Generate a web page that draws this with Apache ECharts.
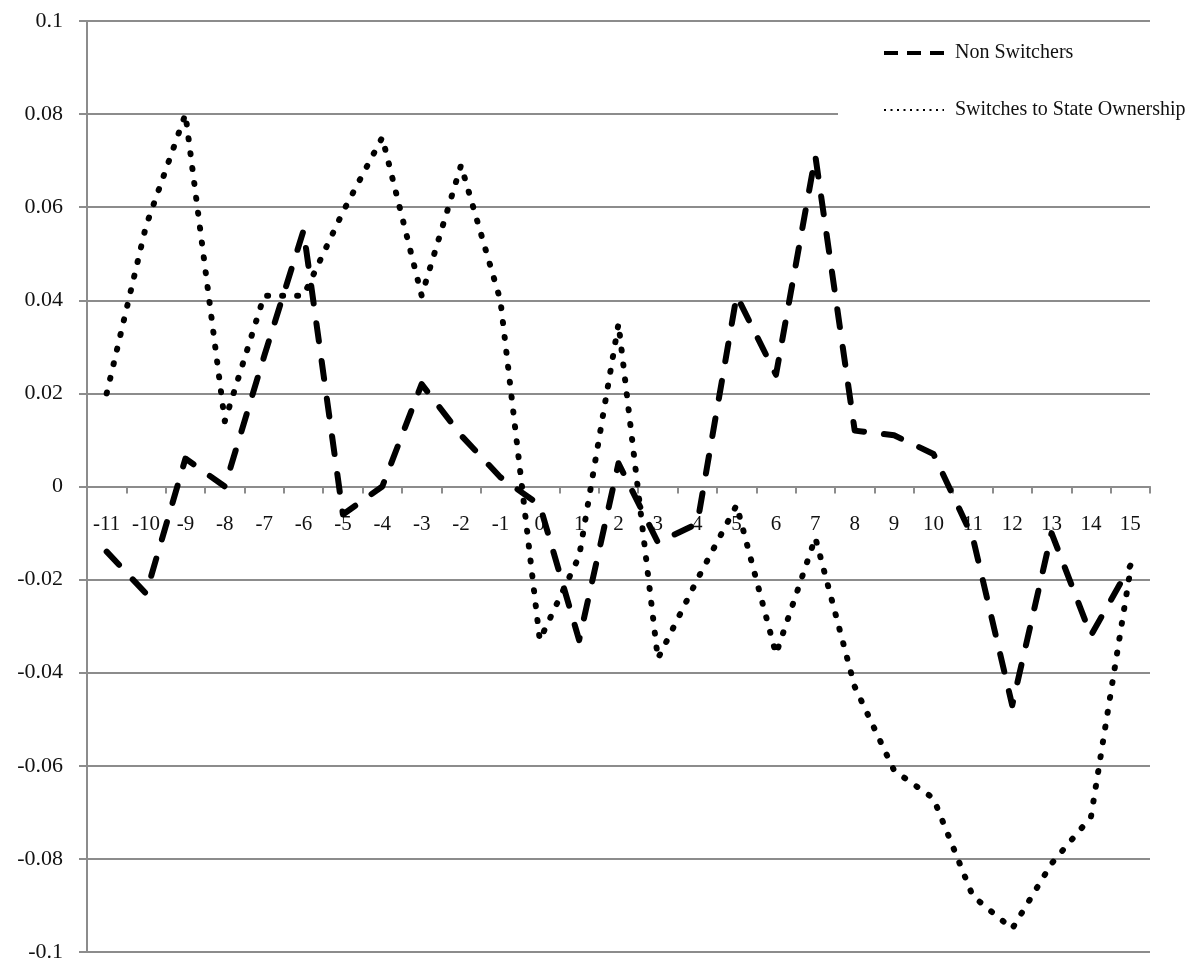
<!DOCTYPE html>
<html>
<head>
<meta charset="utf-8">
<script src="https://cdn.jsdelivr.net/npm/echarts@6/dist/echarts.min.js"></script>
<style>
html,body{margin:0;padding:0;background:#fff;}
#chart{width:1195px;height:970px;}
</style>
</head>
<body>
<div id="chart"></div>
<script>
var categories = ['-11','-10','-9','-8','-7','-6','-5','-4','-3','-2','-1','0','1','2','3','4','5','6','7','8','9','10','11','12','13','14','15'];
var nonSwitchers = [-0.014, -0.023, 0.006, 0.000, 0.028, 0.055, -0.006, 0.000, 0.022, 0.011, 0.002, -0.004, -0.033, 0.005, -0.012, -0.008, 0.041, 0.024, 0.071, 0.012, 0.011, 0.007, -0.011, -0.047, -0.010, -0.032, -0.017];
var switchesToState = [0.020, 0.056, 0.080, 0.014, 0.041, 0.041, 0.059, 0.075, 0.041, 0.069, 0.040, -0.033, -0.015, 0.035, -0.037, -0.020, -0.004, -0.036, -0.011, -0.043, -0.061, -0.067, -0.088, -0.095, -0.081, -0.071, -0.018];
var seriesNames = ['Non Switchers', 'Switches to State Ownership'];

var font = 'Liberation Serif, Times New Roman, serif';
var gridTop = 21, gridBottom = 18, chartH = 970;
var plotH = chartH - gridTop - gridBottom;
var yMin = -0.1, yMax = 0.1;
// offset that places the category axis on the zero line
var zeroOffset = -plotH * (0 - yMin) / (yMax - yMin);

var hiddenSymbol = {color: 'rgba(0,0,0,0)', borderColor: 'rgba(0,0,0,0)', borderWidth: 0, opacity: 0};

var chart = echarts.init(document.getElementById('chart'));
chart.setOption({
  animation: false,
  backgroundColor: '#fff',
  grid: {left: 87, right: 45, top: gridTop, bottom: gridBottom, containLabel: false, outerBoundsMode: 'none'},
  legend: {
    orient: 'vertical',
    left: 838, top: 31,
    padding: [12, 10, 22, 44],
    backgroundColor: '#fff',
    itemWidth: 60, itemHeight: 20, itemGap: 37,
    textStyle: {fontFamily: font, fontSize: 20, color: '#111', padding: [0, 0, 0, 6]},
    data: [
      {name: seriesNames[0], itemStyle: hiddenSymbol, lineStyle: {type: [14, 9], width: 4, color: '#000', cap: 'butt'}},
      {name: seriesNames[1], itemStyle: hiddenSymbol, lineStyle: {type: [2, 4.5], width: 2, color: '#000', cap: 'butt'}}
    ]
  },
  xAxis: {
    type: 'category',
    data: categories,
    boundaryGap: true,
    position: 'bottom',
    offset: zeroOffset,
    axisLine: {onZero: false, lineStyle: {color: '#8c8c8c', width: 2}},
    axisTick: {show: true, length: 7, inside: false, lineStyle: {color: '#8c8c8c', width: 2}},
    axisLabel: {fontFamily: font, fontSize: 21, color: '#111', margin: 27, interval: 0},
    splitLine: {show: false}
  },
  yAxis: {
    type: 'value',
    min: yMin, max: yMax, interval: 0.02,
    axisLine: {show: true, lineStyle: {color: '#8c8c8c', width: 2}},
    axisTick: {show: true, length: 8, lineStyle: {color: '#8c8c8c', width: 2}},
    axisLabel: {fontFamily: font, fontSize: 22, color: '#111', margin: 24,
      formatter: function (v) { return String(parseFloat(v.toFixed(2))); }},
    splitLine: {show: true, lineStyle: {color: '#8c8c8c', width: 2}}
  },
  series: [
    {
      name: seriesNames[0], type: 'line', data: nonSwitchers,
      symbol: 'none', smooth: false,
      lineStyle: {color: '#000', width: 6, type: [18, 20], cap: 'round', join: 'round'},
      itemStyle: {color: '#000'}, z: 3
    },
    {
      name: seriesNames[1], type: 'line', data: switchesToState,
      symbol: 'none', smooth: false,
      lineStyle: {color: '#000', width: 6, type: [1, 14], cap: 'round', join: 'round'},
      itemStyle: {color: '#000'}, z: 2
    }
  ]
});
</script>
</body>
</html>
